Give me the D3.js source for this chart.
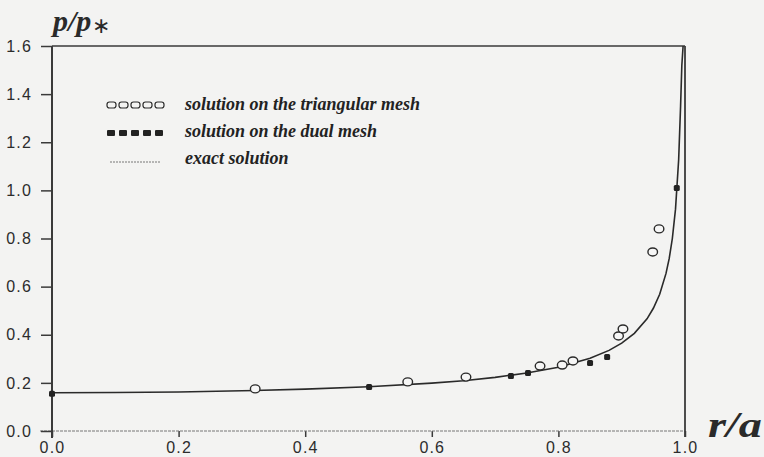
<!DOCTYPE html>
<html>
<head>
<meta charset="utf-8">
<script src="https://cdn.jsdelivr.net/npm/d3@7"></script>
<style>
  html, body { margin: 0; padding: 0; background: #f3f3f2; }
  svg { display: block; }
</style>
</head>
<body>
<svg id="chart" width="764" height="457"></svg>
<script>
// exact solution
const exactR = [0, 0.1, 0.2, 0.3, 0.4, 0.5, 0.6, 0.65, 0.7, 0.75, 0.8, 0.85, 0.88, 0.9, 0.92, 0.94, 0.95, 0.96, 0.97, 0.975, 0.98, 0.985, 0.99, 0.993, 0.995, 0.997]
const exactP = [0.159, 0.160, 0.162, 0.167, 0.174, 0.184, 0.199, 0.209, 0.223, 0.241, 0.265, 0.302, 0.335, 0.365, 0.406, 0.466, 0.510, 0.568, 0.655, 0.716, 0.800, 0.922, 1.128, 1.348, 1.52, 1.6]

// solution on the triangular mesh (open markers)
const triR = [0.321, 0.562, 0.654, 0.771, 0.806, 0.823, 0.895, 0.902, 0.949, 0.959]
const triP = [0.175, 0.204, 0.224, 0.270, 0.274, 0.291, 0.395, 0.424, 0.744, 0.840]

// solution on the dual mesh (filled markers)
const dualR = [0.0, 0.501, 0.725, 0.752, 0.850, 0.877, 0.987]
const dualP = [0.155, 0.183, 0.229, 0.241, 0.283, 0.308, 1.01]

const xTicks = [0, 0.2, 0.4, 0.6, 0.8, 1.0]
const yTicks = [0, 0.2, 0.4, 0.6, 0.8, 1.0, 1.2, 1.4, 1.6]

const legendLabels = ["solution on the triangular mesh", "solution on the dual mesh", "exact solution"]

const ink = "#3a3a3a"
const svg = d3.select("#chart")

const x = d3.scaleLinear().domain([0, 1]).range([52, 685])
const y = d3.scaleLinear().domain([0, 1.6]).range([431, 46])

function styleTicks(g) {
    g.selectAll(".tick line").attr("stroke", ink).attr("stroke-width", 1.5)
    g.selectAll(".tick text")
        .attr("fill", "#2c2c2c")
        .style("font-family", "'Liberation Sans', Arial, sans-serif")
        .style("font-size", "16px")
        .style("letter-spacing", "1.2px")
}

// x axis (faint dotted baseline, ticks hanging below)
const xAxis = svg.append("g")
    .attr("transform", `translate(0,${y(0)})`)
    .call(d3.axisBottom(x).tickValues(xTicks).tickSize(6).tickPadding(5).tickSizeOuter(0).tickFormat(d3.format(".1f")))
xAxis.select(".domain").remove()
styleTicks(xAxis)

svg.append("line")
    .attr("x1", x(0) - 12).attr("x2", x(1))
    .attr("y1", y(0)).attr("y2", y(0))
    .attr("stroke", "#777")
    .attr("stroke-width", 1)
    .attr("stroke-dasharray", "3,1")

// y axis
const yAxis = svg.append("g")
    .attr("transform", `translate(${x(0)},0)`)
    .call(d3.axisLeft(y).tickValues(yTicks).tickSize(11).tickPadding(9).tickSizeOuter(0).tickFormat(d3.format(".1f")))
yAxis.select(".domain").remove()
styleTicks(yAxis)

// left axis line and frame
svg.append("line")
    .attr("x1", x(0)).attr("x2", x(0))
    .attr("y1", y(1.6)).attr("y2", y(0) + 7)
    .attr("stroke", ink).attr("stroke-width", 2)
svg.append("line")
    .attr("x1", x(0)).attr("x2", x(1))
    .attr("y1", y(1.6)).attr("y2", y(1.6))
    .attr("stroke", ink).attr("stroke-width", 1.5)
svg.append("line")
    .attr("x1", x(1)).attr("x2", x(1))
    .attr("y1", y(1.6)).attr("y2", y(0) + 6)
    .attr("stroke", ink).attr("stroke-width", 1.8)

// exact curve
const line = d3.line()
    .x(i => x(exactR[i]))
    .y(i => y(exactP[i]))
svg.append("path")
    .datum(d3.range(exactR.length))
    .attr("fill", "none")
    .attr("stroke", "#2a2a2a")
    .attr("stroke-width", 1.6)
    .attr("d", line)

// open markers
svg.append("g")
    .selectAll("ellipse")
    .data(d3.range(triR.length))
    .join("ellipse")
    .attr("cx", i => x(triR[i]))
    .attr("cy", i => y(triP[i]))
    .attr("rx", 4.8)
    .attr("ry", 4)
    .attr("fill", "#f6f6f6")
    .attr("stroke", "#2a2a2a")
    .attr("stroke-width", 1.4)

// filled markers
svg.append("g")
    .selectAll("rect")
    .data(d3.range(dualR.length))
    .join("rect")
    .attr("x", i => x(dualR[i]) - 3)
    .attr("y", i => y(dualP[i]) - 3)
    .attr("width", 6)
    .attr("height", 6)
    .attr("rx", 1.5)
    .attr("fill", "#222")

// axis titles
svg.append("text")
    .attr("x", 53).attr("y", 31)
    .style("font-family", "'Liberation Serif', 'Times New Roman', serif")
    .style("font-style", "italic")
    .style("font-weight", "bold")
    .style("font-size", "30px")
    .attr("fill", "#2a2a2a")
    .text("p/p")
    .append("tspan")
    .attr("dx", 1)
    .attr("dy", 2)
    .style("font-size", "22px")
    .style("font-style", "normal")
    .style("font-weight", "normal")
    .text("∗")

svg.append("text")
    .attr("x", 708).attr("y", 437)
    .attr("textLength", 54)
    .attr("lengthAdjust", "spacingAndGlyphs")
    .style("font-family", "'Liberation Serif', 'Times New Roman', serif")
    .style("font-style", "italic")
    .style("font-weight", "bold")
    .style("font-size", "36px")
    .attr("fill", "#2a2a2a")
    .text("r/a")

// legend
const legend = svg.append("g")
legend.selectAll("text")
    .data(legendLabels)
    .join("text")
    .attr("x", 185)
    .attr("y", (d, i) => 110 + i * 27)
    .style("font-family", "'Liberation Serif', 'Times New Roman', serif")
    .style("font-style", "italic")
    .style("font-weight", "bold")
    .style("font-size", "18px")
    .attr("fill", "#222")
    .text(d => d)

const legendSlots = d3.range(5)
legend.append("g")
    .selectAll("rect")
    .data(legendSlots)
    .join("rect")
    .attr("x", i => 107 + i * 12)
    .attr("y", 102)
    .attr("width", 9)
    .attr("height", 6)
    .attr("rx", 2.5)
    .attr("fill", "none")
    .attr("stroke", "#2a2a2a")
    .attr("stroke-width", 1.2)

legend.append("g")
    .selectAll("rect")
    .data(legendSlots)
    .join("rect")
    .attr("x", i => 107 + i * 12)
    .attr("y", 130)
    .attr("width", 8)
    .attr("height", 6)
    .attr("rx", 1)
    .attr("fill", "#222")

legend.append("line")
    .attr("x1", 110).attr("x2", 161)
    .attr("y1", 162).attr("y2", 162)
    .attr("stroke", "#777")
    .attr("stroke-width", 1)
    .attr("stroke-dasharray", "2,1")
</script>
</body>
</html>
